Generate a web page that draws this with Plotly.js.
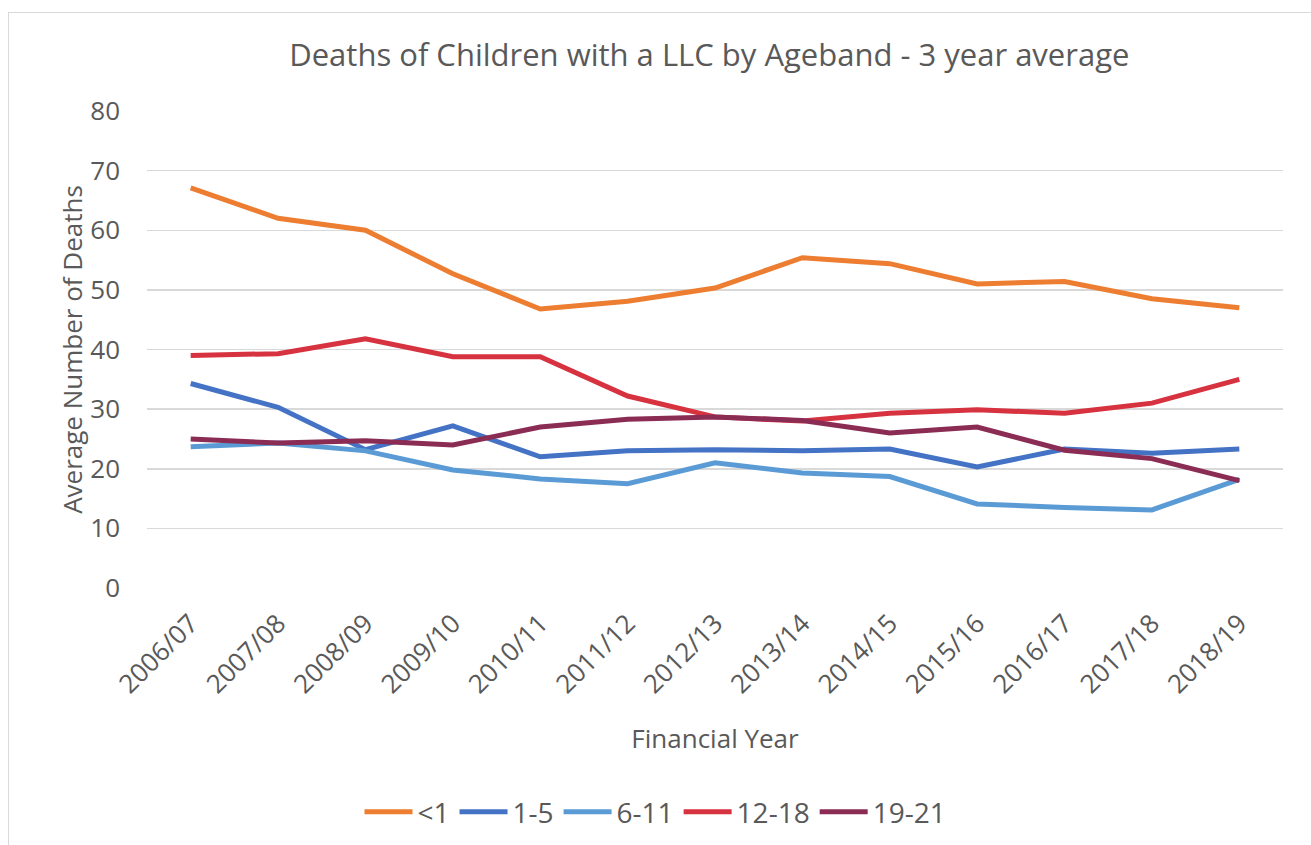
<!DOCTYPE html>
<html>
<head>
<meta charset="utf-8">
<script src="https://cdn.plot.ly/plotly-3.0.1.min.js"></script>
<style>
  html, body { margin:0; padding:0; background:#fff; overflow:hidden; }
  #frame { position:absolute; left:8px; top:12px; width:1400px; height:900px; border:1.5px solid #d9d9d9; box-sizing:border-box; }
  #chart { position:absolute; left:0; top:0; width:1311px; height:845px; }
</style>
</head>
<body>
<div id="frame"></div>
<div id="chart"></div>
<script>
const years = ["2006/07","2007/08","2008/09","2009/10","2010/11","2011/12","2012/13","2013/14","2014/15","2015/16","2016/17","2017/18","2018/19"];
const seriesNames = ["<1","1-5","6-11","12-18","19-21"];
const under1   = [67.1, 62.0, 60.0, 52.7, 46.8, 48.1, 50.3, 55.4, 54.4, 51.0, 51.4, 48.5, 47.0];
const age1to5  = [34.3, 30.3, 23.2, 27.2, 22.0, 23.0, 23.2, 23.0, 23.3, 20.3, 23.3, 22.6, 23.3];
const age6to11 = [23.7, 24.3, 23.0, 19.8, 18.3, 17.5, 21.0, 19.3, 18.7, 14.1, 13.5, 13.1, 18.2];
const age12to18= [39.0, 39.3, 41.8, 38.8, 38.8, 32.2, 28.7, 28.0, 29.3, 29.9, 29.3, 31.0, 35.0];
const age19to21= [25.0, 24.3, 24.7, 24.0, 27.0, 28.3, 28.7, 28.1, 26.0, 27.0, 23.1, 21.7, 18.0];
const yTicks = [0,10,20,30,40,50,60,70,80];

const values = [under1, age1to5, age6to11, age12to18, age19to21];
const colors = ["#ED7D31","#4472C4","#5B9BD5","#D6323F","#8B2C55"];
const FONT = "Open Sans, Liberation Sans, sans-serif";

const traces = values.map((v,i)=>({
  type:"scatter", mode:"lines", x:years, y:v, name:seriesNames[i],
  line:{color:colors[i], width:5}
}));

const layout = {
  width:1311, height:845,
  paper_bgcolor:"rgba(0,0,0,0)", plot_bgcolor:"rgba(0,0,0,0)",
  margin:{l:147, r:28, t:111, b:257},
  font:{family:FONT, color:"#595959"},
  title:{text:"Deaths of Children with a LLC by Ageband - 3 year average", x:0.495, xref:"paper", y:0.935, yref:"container", yanchor:"middle",
    font:{size:31, color:"#595959", family:FONT}},
  xaxis:{type:"category", range:[-0.5,12.5], tickangle:-45, showgrid:false, zeroline:false, showline:false,
    ticks:"", ticklabelstandoff:14, tickfont:{size:26, color:"#595959"},
    title:{text:"Financial Year", font:{size:26, color:"#595959"}, standoff:30}},
  yaxis:{range:[0,80], tickvals:yTicks, showgrid:true, gridcolor:"#d9d9d9", gridwidth:1.5, zeroline:false,
    showline:false, ticks:"", ticklabelstandoff:26, tickfont:{size:26, color:"#595959"},
    title:{text:"Average Number of Deaths", font:{size:26, color:"#595959"}, standoff:0}},
  showlegend:true,
  legend:{orientation:"h", x:0.5, xref:"container", xanchor:"center", y:0.039, yref:"container", yanchor:"middle", font:{size:28, color:"#595959"},
    itemwidth:48, tracegroupgap:0},
};

Plotly.newPlot("chart", traces, layout, {displayModeBar:false, staticPlot:true});
</script>
</body>
</html>
